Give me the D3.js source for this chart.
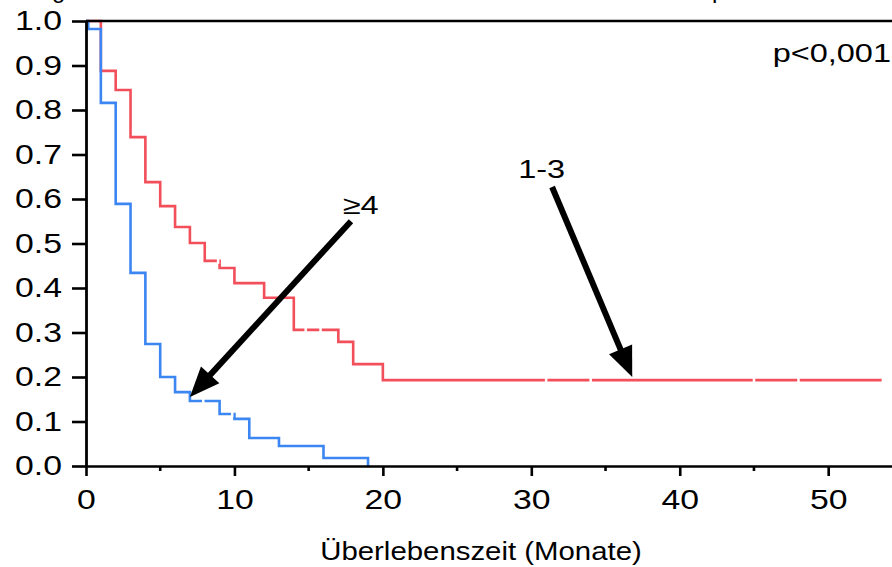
<!DOCTYPE html>
<html>
<head>
<meta charset="utf-8">
<script src="https://cdn.jsdelivr.net/npm/d3@7"></script>
<style>
  body { margin: 0; background: #fff; }
  svg { display: block; font-family: "Liberation Sans", Arial, Helvetica, sans-serif; }
</style>
</head>
<body>
<div class="canva"></div>
<script>
// Kaplan-Meier curves, values
const redTimes = [0, 1, 2, 3, 4, 5, 6, 7, 8, 9, 10, 12, 14, 17, 18, 20, 53.6];
const redSurv  = [1, 0.888, 0.845, 0.739, 0.638, 0.584, 0.537, 0.501, 0.461, 0.445, 0.411, 0.378, 0.306, 0.279, 0.229, 0.193, 0.193];
const redCensor = [8.9, 14.8, 15.8, 31, 34, 45, 48];

const blueTimes = [0, 0.15, 1, 2, 3, 4, 5, 6, 7, 9, 10, 11, 13, 16, 19];
const blueSurv  = [1, 0.982, 0.816, 0.589, 0.434, 0.274, 0.200, 0.166, 0.146, 0.117, 0.106, 0.063, 0.045, 0.018, 0];
const blueCensor = [7.9, 9.85];

const xTicks = [0, 10, 20, 30, 40, 50];
const xMinorTicks = [5, 15, 25, 35, 45];
const yTicks = [0, 0.1, 0.2, 0.3, 0.4, 0.5, 0.6, 0.7, 0.8, 0.9, 1.0];

const redColor = "#f24f5b";
const blueColor = "#3b86f2";

const width = 892, height = 567;
const svg = d3.select(".canva").append("svg")
    .attr("width", width)
    .attr("height", height);

const x = d3.scaleLinear().domain([0, 54.3]).range([86, 892]);
const y = d3.scaleLinear().domain([0, 1]).range([466, 21]);

// the original lettering is a bit wider than the font
const stretch = "scale(1.25,1)";

function toPoints(times, surv) {
    return times.map((t, i) => ({t: t, s: surv[i]}));
}
function survAt(times, surv, t) {
    let s = surv[0];
    times.forEach((tt, i) => { if (tt <= t) s = surv[i]; });
    return s;
}
// text placed at (px, py) but stretched horizontally around that point
function wideText(px, py, size, anchor, str, sx) {
    return svg.append("text")
        .attr("transform", `translate(${px},${py}) scale(${sx || 1.25},1)`)
        .attr("text-anchor", anchor)
        .attr("font-size", size)
        .text(str);
}

const line = d3.line()
    .x(d => x(d.t))
    .y(d => y(d.s))
    .curve(d3.curveStepAfter);

const curves = [
    {times: redTimes, surv: redSurv, censor: redCensor, color: redColor},
    {times: blueTimes, surv: blueSurv, censor: blueCensor, color: blueColor}
];

curves.forEach(c => {
    svg.append("path")
        .datum(toPoints(c.times, c.surv))
        .attr("d", line)
        .attr("fill", "none")
        .attr("stroke", c.color)
        .attr("stroke-width", 2.6);

    // censored cases show up as small gaps in the line
    svg.selectAll(null)
        .data(c.censor)
        .enter()
        .append("line")
        .attr("x1", d => x(d))
        .attr("x2", d => x(d))
        .attr("y1", d => y(survAt(c.times, c.surv, d)) - 3)
        .attr("y2", d => y(survAt(c.times, c.surv, d)) + 3)
        .attr("stroke", "#fff")
        .attr("stroke-width", 2.5);
});

// Axes
const xAxis = d3.axisBottom(x)
    .tickValues(xTicks)
    .tickSize(10)
    .tickSizeOuter(0)
    .tickFormat(d3.format("d"));

const gx = svg.append("g")
    .attr("transform", `translate(0, ${y(0)})`)
    .call(xAxis);
gx.select(".domain").attr("stroke-width", 2.6);
gx.selectAll(".tick line").attr("stroke-width", 2.6);
gx.selectAll(".tick text")
    .attr("y", 0)
    .attr("dy", null)
    .attr("font-size", "27px")
    .attr("font-family", "Liberation Sans, Arial, sans-serif")
    .attr("transform", "translate(0,43) " + stretch);

svg.append("g")
    .selectAll("line")
    .data(xMinorTicks)
    .enter()
    .append("line")
    .attr("x1", d => x(d))
    .attr("x2", d => x(d))
    .attr("y1", y(0))
    .attr("y2", y(0) + 5)
    .attr("stroke", "#000")
    .attr("stroke-width", 2.6);

const yAxis = d3.axisLeft(y)
    .tickValues(yTicks)
    .tickSize(14)
    .tickSizeOuter(0)
    .tickFormat(d3.format(".1f"));

const gy = svg.append("g")
    .attr("transform", `translate(${x(0)}, 0)`)
    .call(yAxis);
gy.select(".domain").attr("stroke-width", 2.8);
gy.selectAll(".tick line").attr("stroke-width", 2.6);
gy.selectAll(".tick text")
    .attr("x", 0)
    .attr("font-size", "27px")
    .attr("font-family", "Liberation Sans, Arial, sans-serif")
    .attr("transform", "translate(-24,0) " + stretch);

// top frame line
svg.append("line")
    .attr("x1", x(0))
    .attr("x2", width)
    .attr("y1", y(1))
    .attr("y2", y(1))
    .attr("stroke", "#000")
    .attr("stroke-width", 2.6);

// x axis title
wideText(481, 560, "26px", "middle", "Überlebenszeit (Monate)", 1.13);

// cut-off title remains at the very top
svg.append("text").attr("x", 52).attr("y", -2).attr("font-size", "24px").text("g");
svg.append("text").attr("x", 667).attr("y", -5).attr("font-size", "24px").text("(");
svg.append("text").attr("x", 712).attr("y", -2).attr("font-size", "24px").text("p");

// p value
wideText(891, 62, "26px", "end", "p<0,001");

// arrows with labels
const arrows = [
    {label: "≥4", lx: 18.5, ly: 0.567, from: [17.85, 0.55], to: [7.0, 0.155]},
    {label: "1-3", lx: 30.7, ly: 0.648, from: [31.4, 0.627], to: [36.8, 0.2]}
];

arrows.forEach(a => {
    const x1 = x(a.from[0]), y1 = y(a.from[1]);
    const x2 = x(a.to[0]), y2 = y(a.to[1]);
    const ang = Math.atan2(y2 - y1, x2 - x1);
    const headLen = 30, headW = 12.5;
    const bx = x2 - headLen * Math.cos(ang), by = y2 - headLen * Math.sin(ang);
    svg.append("line")
        .attr("x1", x1).attr("y1", y1)
        .attr("x2", bx + 4 * Math.cos(ang)).attr("y2", by + 4 * Math.sin(ang))
        .attr("stroke", "#000")
        .attr("stroke-width", 6);
    const px = -Math.sin(ang), py = Math.cos(ang);
    svg.append("path")
        .attr("d", `M${x2},${y2} L${bx + headW * px},${by + headW * py} L${bx - headW * px},${by - headW * py} Z`)
        .attr("fill", "#000");
    wideText(x(a.lx), y(a.ly), "26px", "middle", a.label);
});
</script>
</body>
</html>
